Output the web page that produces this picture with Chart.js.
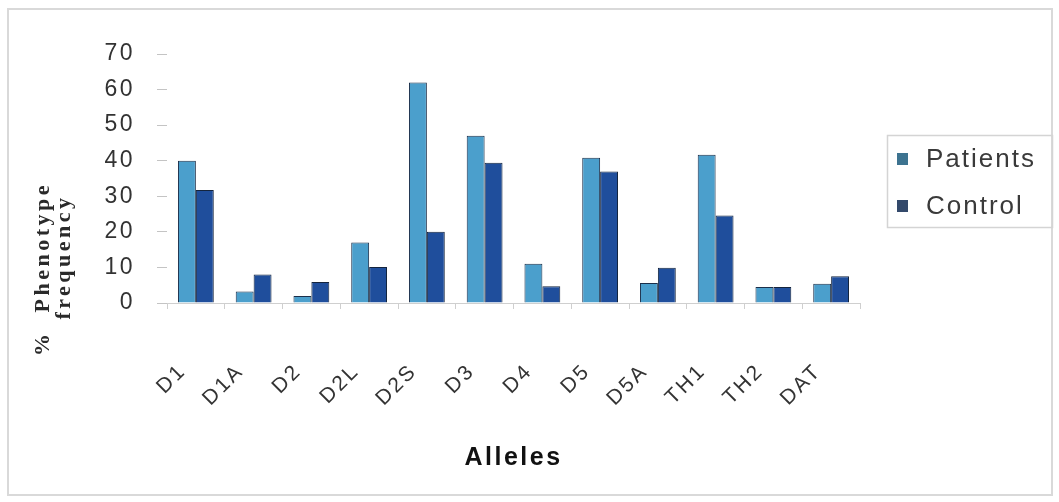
<!DOCTYPE html>
<html>
<head>
<meta charset="utf-8">
<script src="https://cdn.jsdelivr.net/npm/chart.js@4"></script>
<style>
  html, body { margin: 0; background: #fff; }
  #wrap { width: 1059px; height: 502px; }
</style>
</head>
<body>
<div id="wrap"><canvas id="myChart" width="1059" height="502"></canvas></div>
<script>
// chart data
var alleles = ['D1', 'D1A', 'D2', 'D2L', 'D2S', 'D3', 'D4', 'D5', 'D5A', 'TH1', 'TH2', 'DAT'];
var patients = [40, 3.2, 2, 17, 62, 47, 11, 40.8, 5.6, 41.7, 4.5, 5.4];
var control = [31.8, 8, 5.9, 10.1, 20, 39.4, 4.7, 37, 9.9, 24.6, 4.5, 7.5];
var yTicks = [0, 10, 20, 30, 40, 50, 60, 70];
var seriesNames = ['Patients', 'Control'];

var ctx = document.getElementById('myChart').getContext('2d');

// canvas resets its state on resize, so put the spacing back every time
const spacing = {
    id: 'spacing',
    beforeUpdate: (chart) => { chart.ctx.letterSpacing = '2.5px'; },
    beforeDraw: (chart) => { chart.ctx.letterSpacing = '2.5px'; }
};

// outer frame, rotated y title and the boxed legend
const extras = {
    id: 'extras',
    afterDraw: (chart) => {
        const c = chart.ctx;
        c.save();
        c.strokeStyle = '#d9d9d9';
        c.lineWidth = 2;
        c.strokeRect(8, 9, 1044, 486);

        // y title, two lines, bold serif
        c.fillStyle = '#2a2a2a';
        c.font = 'bold 22px "Liberation Serif"';
        c.letterSpacing = '3.5px';
        c.textAlign = 'center';
        c.textBaseline = 'middle';
        c.save();
        c.translate(43, 269);
        c.rotate(-Math.PI / 2);
        c.fillText('%  Phenotype', 0, 0);
        c.restore();
        c.save();
        c.translate(64, 257);
        c.rotate(-Math.PI / 2);
        c.fillText('frequency', 0, 0);
        c.restore();

        // legend
        c.strokeStyle = '#d4d4d4';
        c.lineWidth = 1.5;
        c.strokeRect(887.5, 135.5, 165, 92);
        const swatch = ['#3d7390', '#33496b'];
        const rows = [159, 206];
        c.font = '26px "Liberation Sans"';
        c.letterSpacing = '2px';
        c.textAlign = 'left';
        for (let i = 0; i < seriesNames.length; i++) {
            c.fillStyle = swatch[i];
            c.fillRect(897, rows[i] - 6, 11, 12);
            c.fillStyle = '#3a3a3a';
            c.fillText(seriesNames[i], 926, rows[i] + 1);
        }
        c.restore();
    }
};

new Chart(ctx, {
    type: 'bar',
    data: {
        labels: alleles,
        datasets: [{
            label: seriesNames[0],
            data: patients,
            backgroundColor: '#4b9fcc',
            borderColor: '#1b2f4a',
            borderWidth: 1
        }, {
            label: seriesNames[1],
            data: control,
            backgroundColor: '#1f4e9c',
            borderColor: '#14243d',
            borderWidth: 1
        }]
    },
    options: {
        responsive: false,
        animation: false,
        layout: {
            padding: {left: 0, top: 54, right: 199, bottom: 0}
        },
        plugins: {
            legend: {display: false},
            tooltip: {enabled: false}
        },
        datasets: {
            bar: {categoryPercentage: 0.62, barPercentage: 1}
        },
        scales: {
            x: {
                afterFit: (scale) => { scale.height = 199; },
                grid: {
                    drawOnChartArea: false,
                    tickLength: 6,
                    color: '#cfcfcf'
                },
                border: {display: true, color: '#cfcfcf'},
                ticks: {
                    autoSkip: false,
                    minRotation: 45,
                    maxRotation: 45,
                    padding: 50,
                    labelOffset: -13,
                    color: '#333',
                    font: {family: '"Liberation Sans"', size: 21}
                },
                title: {
                    display: true,
                    text: 'Alleles',
                    color: '#111',
                    font: {family: '"Liberation Sans"', size: 25, weight: 'bold'},
                    padding: {top: 0, bottom: 29}
                }
            },
            y: {
                min: 0,
                max: 70,
                afterFit: (scale) => { scale.width = 167; },
                afterBuildTicks: (scale) => {
                    scale.ticks = yTicks.map(v => ({value: v}));
                },
                grid: {
                    drawOnChartArea: false,
                    tickLength: 10,
                    color: '#c4c4c4'
                },
                border: {display: false},
                ticks: {
                    padding: 22,
                    color: '#333',
                    font: {family: '"Liberation Sans"', size: 23}
                }
            }
        }
    },
    plugins: [spacing, extras]
});
</script>
</body>
</html>
